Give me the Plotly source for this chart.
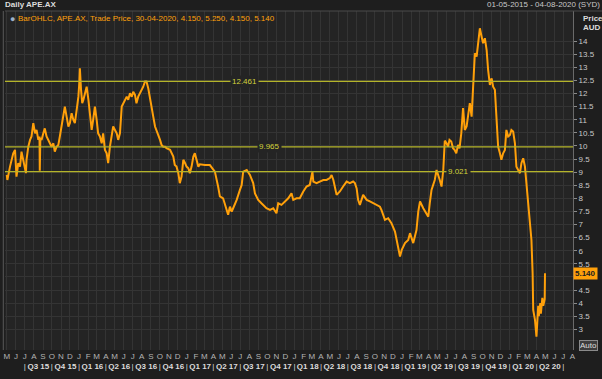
import plotly.graph_objects as go
import pandas as pd

# ---------------- data ----------------
price_dates = [
 "2015-05-01","2015-05-03","2015-05-12","2015-05-18","2015-05-23","2015-05-29","2015-06-03","2015-06-09",
 "2015-06-15","2015-06-20","2015-06-26","2015-07-02","2015-07-05","2015-07-07","2015-07-13","2015-07-19",
 "2015-07-24","2015-07-30","2015-08-05","2015-08-10","2015-08-16","2015-08-20","2015-08-21","2015-08-23",
 "2015-08-27","2015-09-02","2015-09-07","2015-09-13","2015-09-19","2015-09-24","2015-09-30","2015-10-06",
 "2015-10-11","2015-10-17","2015-10-23","2015-10-28","2015-11-03","2015-11-09","2015-11-14","2015-11-20",
 "2015-11-26","2015-12-01","2015-12-07","2015-12-13","2015-12-18","2015-12-24","2015-12-30",
 "2016-01-02","2016-01-04","2016-01-08","2016-01-12","2016-01-16","2016-01-21","2016-01-27","2016-02-02",
 "2016-02-07","2016-02-13","2016-02-18","2016-02-24","2016-03-01","2016-03-06","2016-03-12","2016-03-18",
 "2016-03-23","2016-03-29","2016-04-04","2016-04-09","2016-04-15","2016-04-21","2016-04-26","2016-05-02",
 "2016-05-08","2016-05-13","2016-05-19","2016-05-25","2016-05-31","2016-06-05","2016-06-11","2016-06-16",
 "2016-06-22","2016-06-28","2016-07-03","2016-07-09","2016-07-14","2016-07-20","2016-07-26","2016-07-31",
 "2016-08-06","2016-08-12","2016-08-17","2016-08-23","2016-08-29","2016-09-03","2016-09-09","2016-09-15",
 "2016-09-20","2016-09-26","2016-10-02","2016-10-07","2016-10-13","2016-10-19","2016-10-24","2016-11-05",
 "2016-11-10","2016-11-16","2016-11-21","2016-11-27","2016-12-03","2016-12-08","2016-12-14","2016-12-20",
 "2016-12-26","2016-12-31",
 "2017-01-06","2017-01-11","2017-01-17","2017-01-23","2017-01-28","2017-02-03","2017-02-09","2017-02-14",
 "2017-03-03","2017-03-20","2017-04-06","2017-04-17","2017-04-23","2017-05-04","2017-05-16","2017-05-21",
 "2017-05-27","2017-06-02","2017-06-07","2017-06-19","2017-06-30","2017-07-06","2017-07-11","2017-07-23",
 "2017-08-03","2017-08-14","2017-08-20","2017-08-31","2017-09-11","2017-09-28","2017-10-10","2017-10-21",
 "2017-11-01","2017-11-07","2017-11-18","2017-11-30","2017-12-11","2017-12-22","2017-12-28",
 "2018-01-08","2018-01-19","2018-01-31","2018-02-11","2018-02-22","2018-03-03","2018-03-06","2018-03-17",
 "2018-03-28","2018-04-09","2018-04-20","2018-05-01","2018-05-07","2018-05-13","2018-05-24","2018-06-04",
 "2018-06-15","2018-06-27","2018-07-08","2018-07-19","2018-07-25","2018-07-31","2018-08-05","2018-08-11",
 "2018-08-22","2018-09-03","2018-09-14","2018-09-25","2018-10-07","2018-10-18","2018-10-23","2018-11-04",
 "2018-11-15","2018-11-26","2018-12-08","2018-12-19","2018-12-25","2018-12-31",
 "2019-01-11","2019-01-22","2019-01-28","2019-02-08","2019-02-19","2019-02-25","2019-03-03","2019-03-14",
 "2019-03-25","2019-03-31","2019-04-05","2019-04-11","2019-04-22","2019-04-28","2019-05-09","2019-05-15",
 "2019-05-21","2019-05-26","2019-06-01","2019-06-06","2019-06-11","2019-06-17","2019-06-23","2019-06-28",
 "2019-07-04","2019-07-10","2019-07-15","2019-07-21","2019-07-27","2019-08-02","2019-08-08","2019-08-13",
 "2019-08-19","2019-08-25","2019-08-30","2019-09-05","2019-09-11","2019-09-16","2019-09-22","2019-09-28",
 "2019-10-03","2019-10-09","2019-10-15","2019-10-20","2019-10-26","2019-11-01","2019-11-06","2019-11-12",
 "2019-11-18","2019-11-23","2019-11-29","2019-12-04","2019-12-10","2019-12-16","2019-12-21","2019-12-27",
 "2020-01-02","2020-01-07","2020-01-13","2020-01-19","2020-01-24","2020-01-30","2020-02-05","2020-02-10",
 "2020-02-16","2020-02-22","2020-02-27","2020-03-04","2020-03-10","2020-03-15","2020-03-19","2020-03-21",
 "2020-03-27","2020-04-01","2020-04-03","2020-04-07","2020-04-09","2020-04-14","2020-04-16","2020-04-21",
 "2020-04-24","2020-04-29","2020-04-30",
]
price_close = [
 8.89,8.70,9.21,9.47,9.72,9.85,8.83,9.34,
 9.21,9.78,9.47,9.21,8.96,9.47,9.97,10.23,
 10.36,10.87,10.48,10.61,10.23,10.36,9.05,10.30,
 10.23,10.48,10.67,10.36,10.23,10.10,9.97,10.10,
 9.78,9.97,10.04,10.36,10.74,11.25,11.50,11.12,
 10.74,10.87,11.25,10.99,10.87,11.37,11.88,
 12.39,12.96,12.14,11.63,11.76,12.01,12.26,11.76,
 11.12,10.61,10.99,11.50,10.99,10.48,10.36,10.10,
 10.48,9.85,9.72,9.34,9.97,10.36,10.74,10.61,
 10.48,10.23,10.48,11.50,11.63,11.76,11.88,11.76,
 12.01,11.88,12.07,11.95,11.63,11.88,12.01,12.14,
 12.26,12.46,12.46,12.20,11.76,11.37,11.12,10.74,
 10.61,10.42,10.23,10.04,9.97,9.97,9.91,9.85,
 9.72,9.59,9.27,9.21,8.96,8.58,8.83,9.47,
 9.34,9.21,
 9.15,8.96,9.21,9.59,9.72,9.47,9.21,9.30,
 9.27,9.27,9.02,8.45,8.07,8.00,7.56,7.37,
 7.68,7.49,7.62,7.94,8.32,8.51,9.02,9.08,
 8.89,8.58,8.19,7.94,7.81,7.62,7.56,7.62,
 7.43,7.81,7.75,7.88,8.00,8.19,7.94,
 8.00,8.00,8.26,8.45,8.51,9.02,8.64,8.58,
 8.64,8.70,8.70,8.77,8.89,8.70,8.13,8.26,
 8.45,8.64,8.58,8.64,8.58,8.38,7.94,7.75,
 8.13,7.94,7.88,7.81,7.75,7.68,7.56,7.18,
 7.24,7.05,6.73,6.16,5.78,6.03,
 6.29,6.41,6.67,6.29,6.79,7.49,7.88,7.62,
 7.43,7.30,7.81,8.32,8.70,9.08,8.70,8.45,
 9.10,10.20,10.10,9.97,10.23,10.17,9.91,9.85,
 9.72,10.04,9.91,10.48,11.44,10.61,10.74,11.25,
 11.63,11.12,12.39,13.54,13.41,13.85,14.49,14.17,
 13.92,14.11,13.66,12.90,12.33,12.58,12.26,12.14,
 10.99,9.97,9.72,9.47,9.72,9.85,10.61,10.36,
 10.42,10.61,10.55,10.10,9.21,9.08,8.96,9.34,
 9.53,9.21,8.60,7.94,7.18,6.41,5.14,3.74,
 3.36,2.72,3.10,3.90,3.50,4.00,3.60,4.20,
 3.90,4.15,5.14,
]

level_values = [12.461, 9.965, 9.021]
level_label_dates = ["2017-07-15", "2017-10-08", "2019-07-12"]

last_price = 5.140
legend_text = "BarOHLC, APE.AX, Trade Price, 30-04-2020, 4.150, 5.250, 4.150, 5.140"
quarter_labels = ["Q3 15","Q4 15","Q1 16","Q2 16","Q3 16","Q4 16","Q1 17","Q2 17","Q3 17","Q4 17",
                  "Q1 18","Q2 18","Q3 18","Q4 18","Q1 19","Q2 19","Q3 19","Q4 19","Q1 20","Q2 20"]
quarter_starts = pd.date_range("2015-07-01", "2020-07-01", freq="QS")

month_ticks = pd.date_range("2015-05-01", "2020-08-01", freq="MS")
month_letters = [d.strftime("%b")[0] for d in month_ticks]

price_ticks = [x / 2 for x in range(6, 29)]
price_tick_text = [("" if t == 5 else "%g" % t) for t in price_ticks]

# ---------------- style ----------------
BG = "#1e1e1e"
PLOT_BG = "#242424"
GRID = "#343434"
ORANGE = "#ffa00a"
LEVEL = "#b4b42a"
TXT = "#c8c8c8"
FONT = "Liberation Sans"
X_RANGE = ["2015-04-25", "2020-08-03"]

fig = go.Figure()

fig.add_trace(go.Scatter(x=price_dates, y=price_close, mode="lines",
                         line=dict(color=ORANGE, width=2), hoverinfo="skip", showlegend=False))

for v in level_values:
    fig.add_hline(y=v, line=dict(color=LEVEL, width=1.3), layer="above")
for v, d in zip(level_values, level_label_dates):
    fig.add_annotation(x=d, y=v, xref="x", yref="y", text=f"{v:.3f}", showarrow=False,
                       font=dict(family=FONT, size=8, color="#d2d23c"), bgcolor=PLOT_BG, borderpad=1)

# quarter axis (invisible helper trace)
q_tickvals, q_ticktext = [], []
for i, lab in enumerate(quarter_labels):
    s = quarter_starts[i]
    e = quarter_starts[i + 1]
    q_tickvals.append(s); q_ticktext.append("|")
    q_tickvals.append(s + (e - s) / 2); q_ticktext.append("<b>" + lab + "</b>")
q_tickvals.append(quarter_starts[-1]); q_ticktext.append("|")

fig.add_trace(go.Scatter(x=X_RANGE, y=[level_values[0]] * 2, xaxis="x2", mode="lines",
                         line=dict(color="rgba(0,0,0,0)"), hoverinfo="skip", showlegend=False))

fig.update_layout(
    width=602, height=379,
    margin=dict(l=5, r=29, t=11, b=29, autoexpand=False),
    paper_bgcolor=BG, plot_bgcolor=PLOT_BG,
    font=dict(family=FONT, size=8, color=TXT),
    xaxis=dict(type="date", range=X_RANGE, tickvals=month_ticks, ticktext=month_letters,
               showgrid=True, gridcolor=GRID, gridwidth=1, zeroline=False, showline=False,
               ticks="", tickangle=0, automargin=False,
               tickfont=dict(size=8, color="#b4b4b4"), fixedrange=True),
    xaxis2=dict(type="date", range=X_RANGE, overlaying="x", side="bottom", anchor="y",
                tickvals=q_tickvals, ticktext=q_ticktext, showgrid=False, ticks="",
                tickangle=0, automargin=False,
                ticklabelstandoff=10, tickfont=dict(size=8, color="#dcdcdc"), zeroline=False),
    yaxis=dict(side="right", range=[2.21, 15.15], tickvals=price_ticks, ticktext=price_tick_text,
               showgrid=True, gridcolor=GRID, zeroline=False, showline=True, linecolor="#6a6a6a",
               automargin=False,
               ticks="outside", ticklen=3, tickcolor="#8a8a8a", tickfont=dict(size=8, color=TXT)),
)

# frame pieces
fig.add_shape(type="line", xref="paper", yref="paper", x0=0, x1=1.051, y0=1, y1=1,
              line=dict(color="#4a4a4a", width=1))
fig.add_shape(type="line", xref="paper", yref="paper", x0=-0.003, x1=-0.003, y0=0, y1=1,
              line=dict(color="#5a5a5a", width=1))

# text annotations
fig.add_annotation(xref="paper", yref="paper", x=0, y=1, xanchor="left", yanchor="bottom",
                   xshift=-2, yshift=0, text="<b>Daily APE.AX</b>", showarrow=False,
                   font=dict(family=FONT, size=8, color="#dcdcdc"))
fig.add_annotation(xref="paper", yref="paper", x=1.051, y=1, xanchor="right", yanchor="bottom",
                   text="01-05-2015 - 04-08-2020 (SYD)", showarrow=False,
                   font=dict(family=FONT, size=8, color="#c8c8c8"))
fig.add_annotation(xref="paper", yref="paper", x=0, y=1, xanchor="left", yanchor="top",
                   xshift=11, yshift=-1, text=legend_text, showarrow=False,
                   font=dict(family=FONT, size=8, color=ORANGE))
fig.add_annotation(xref="paper", yref="paper", x=0, y=1, xanchor="left", yanchor="top",
                   xshift=3, yshift=-1, text="●", showarrow=False,
                   font=dict(family=FONT, size=9, color="#9cb0c8"))
fig.add_annotation(xref="paper", yref="paper", x=1, y=1, xanchor="left", yanchor="top",
                   xshift=8, yshift=-1, text="<b>Price</b>", showarrow=False,
                   font=dict(family=FONT, size=8, color="#dcdcdc"))
fig.add_annotation(xref="paper", yref="paper", x=1, y=1, xanchor="left", yanchor="top",
                   xshift=8, yshift=-10, text="<b>AUD</b>", showarrow=False,
                   font=dict(family=FONT, size=8, color="#dcdcdc"))
fig.add_annotation(xref="paper", yref="y", x=1, y=last_price, xanchor="left", yanchor="middle",
                   xshift=0, text="<b>%.3f</b>" % last_price, showarrow=False,
                   bgcolor=ORANGE, borderpad=1, font=dict(family=FONT, size=8, color="#202020"))
fig.add_annotation(xref="paper", yref="paper", x=1, y=0, xanchor="left", yanchor="bottom",
                   xshift=6, yshift=-1, text="Auto", showarrow=False,
                   bgcolor="#3c3c3c", bordercolor="#8a8a8a", borderwidth=1, borderpad=0,
                   font=dict(family=FONT, size=8, color="#dcdcdc"))

fig.write_html("out.html")
